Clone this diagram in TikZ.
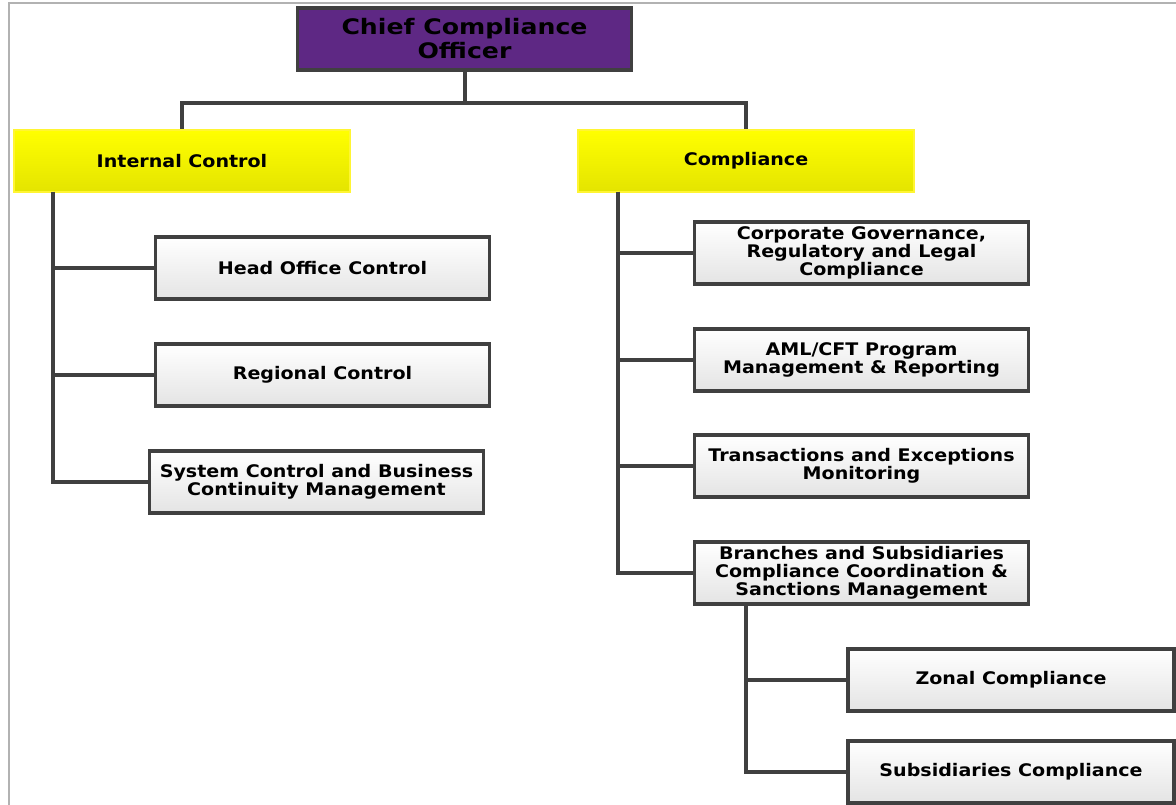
\documentclass[tikz,border=0pt]{standalone}
\usepackage{fontspec}
\setmainfont{DejaVu Sans}
\newfontfamily\boxfont[FakeStretch=1.1]{DejaVu Sans}
\newfontfamily\ccofont[FakeStretch=1.18]{DejaVu Sans}
\definecolor{ccopurple}{RGB}{94,40,132}
\definecolor{edgegrey}{RGB}{64,64,64}
\definecolor{deepyellow}{RGB}{228,228,0}
\definecolor{boxgrey}{RGB}{228,228,228}
\tikzset{
    unitbox/.style={draw=edgegrey, line width=2.3pt, top color=white, bottom color=boxgrey,
        minimum width=251pt, minimum height=46.5pt, align=center,
        font=\boxfont\bfseries\fontsize{13}{13.5}\selectfont, inner sep=2pt},
    headbox/.style={draw=yellow!80!white, line width=1pt, top color=yellow, bottom color=deepyellow,
        minimum width=252pt, minimum height=46.5pt, font=\boxfont\bfseries\fontsize{13}{13.5}\selectfont},
    link/.style={draw=edgegrey, line width=3pt}
}
\begin{document}
\begin{tikzpicture}[x=0.75pt, y=-0.75pt]
    \useasboundingbox (0,0) rectangle (1176,805);
    \draw[gray!60, line width=0.8pt] (1176,3) -- (9,3) -- (9,805);

    \node[draw=edgegrey, line width=2.3pt, fill=ccopurple, minimum width=251pt, minimum height=46.5pt,
        align=center, font=\ccofont\bfseries\fontsize{16}{18}\selectfont] (cco) at (464.5,39) {Chief Compliance\\Officer};

    \node[headbox] (ic) at (182,161) {Internal Control};
    \node[headbox] (cp) at (746,161) {Compliance};

    \node[unitbox] (hoc) at (322.5,268) {Head Office Control};
    \node[unitbox] (reg) at (322.5,375) {Regional Control};
    \node[unitbox] (sys) at (316.5,482) {System Control and Business\\Continuity Management};

    \node[unitbox] (cg) at (861.5,253) {Corporate Governance,\\Regulatory and Legal\\Compliance};
    \node[unitbox] (aml) at (861.5,360) {AML/CFT Program\\Management \& Reporting};
    \node[unitbox] (tem) at (861.5,466) {Transactions and Exceptions\\Monitoring};
    \node[unitbox] (bsc) at (861.5,573) {Branches and Subsidiaries\\Compliance Coordination \&\\Sanctions Management};

    \node[unitbox, minimum width=244.5pt] (zon) at (1011,680) {Zonal Compliance};
    \node[unitbox, minimum width=244.5pt] (sub) at (1011,772) {Subsidiaries Compliance};

    \draw[link] (cco.south) -- ++(0,31) -| (ic.north);
    \draw[link] (cco.south) -- ++(0,31) -| (cp.north);

    \coordinate (ict) at (53,192);
    \coordinate (cpt) at (618,192);
    \coordinate (bst) at (746,604);
    \foreach \n in {hoc,reg,sys}
        \draw[link] (ict) |- (\n.west);
    \foreach \n in {cg,aml,tem,bsc}
        \draw[link] (cpt) |- (\n.west);
    \foreach \n in {zon,sub}
        \draw[link] (bst) |- (\n.west);
\end{tikzpicture}
\end{document}
